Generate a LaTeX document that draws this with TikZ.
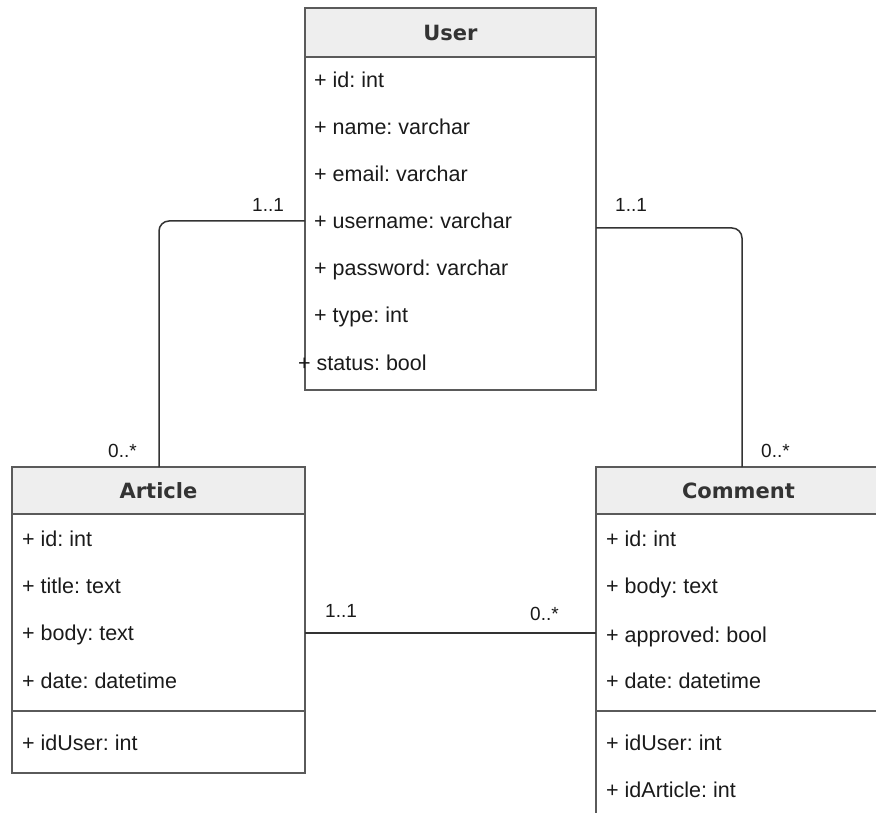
\documentclass[tikz,border=0pt]{standalone}
\usepackage{fontspec}
\setmainfont{Liberation Sans}
\newfontfamily\hdfont{DejaVu Sans}
\definecolor{boxgray}{HTML}{5A5A5A}
\definecolor{linegray}{HTML}{333333}
\definecolor{hdrfill}{HTML}{EEEEEE}
\definecolor{txt}{HTML}{1A1A1A}
\frenchspacing
\begin{document}
\begin{tikzpicture}[x=1pt,y=-1pt,
  box/.style={draw=boxgray, line width=1.5pt, anchor=north west, inner sep=0pt, outer sep=0pt},
  hdr/.style={box, fill=hdrfill, font=\hdfont\bfseries\fontsize{21}{25}\selectfont, text=linegray},
  row/.style={anchor=base west, inner sep=0pt, text=txt, font=\fontsize{21.5}{24}\selectfont},
  lbl/.style={anchor=base west, inner sep=0pt, text=txt, font=\fontsize{19}{22}\selectfont},
  conn/.style={draw=linegray, line width=1.5pt}]
\useasboundingbox (0,0) rectangle (876,813);
\clip (0,0) rectangle (876,813);
% ---------- User ----------
\node[hdr, minimum width=291pt, minimum height=49pt] (userh) at (305,8) {User};
\node[box, minimum width=291pt, minimum height=333pt] (user) at (305,57) {};
\node[row] (u1) at (314,88) {+ id: int};
\node[row] (u2) at (314,135) {+ name: varchar};
\node[row] (u3) at (314,182) {+ email: varchar};
\node[row] (u4) at (314,229) {+ username: varchar};
\node[row] (u5) at (314,276) {+ password: varchar};
\node[row] (u6) at (314,323) {+ type: int};
\node[row] (u7) at (298,370) {+ status: bool};
% ---------- Article ----------
\node[hdr, minimum width=293pt, minimum height=47pt] (articleh) at (12,467) {Article};
\node[box, minimum width=293pt, minimum height=259pt] (article) at (12,514) {};
\draw[draw=boxgray, line width=1.5pt] (article.west |- 0,711) -- (article.east |- 0,711);
\node[row] (a1) at (22,546) {+ id: int};
\node[row] (a2) at (22,593) {+ title: text};
\node[row] (a3) at (22,640) {+ body: text};
\node[row] (a4) at (22,688) {+ date: datetime};
\node[row] (a5) at (22,750) {+ idUser: int};
% ---------- Comment ----------
\node[hdr, minimum width=300pt, minimum height=47pt, text width=300pt, align=left] (commenth) at (596,467) {\hspace*{86pt}Comment};
\node[box, minimum width=300pt, minimum height=340pt] (comment) at (596,514) {};
\draw[draw=boxgray, line width=1.5pt] (comment.west |- 0,711) -- (comment.east |- 0,711);
\node[row] (c1) at (606,546) {+ id: int};
\node[row] (c2) at (606,593) {+ body: text};
\node[row] (c3) at (606,642) {+ approved: bool};
\node[row] (c4) at (606,688) {+ date: datetime};
\node[row] (c5) at (606,750) {+ idUser: int};
\node[row] (c6) at (606,797) {+ idArticle: int};
% ---------- connectors ----------
\coordinate (yl) at (0,221);
\coordinate (yr) at (0,228);
\coordinate (ym) at (0,633);
\coordinate (xl) at (159,0);
\coordinate (xr) at (742,0);
\draw[conn, rounded corners=10pt] (user.west |- yl) -| (xl |- articleh.north);
\draw[conn, rounded corners=10pt] (user.east |- yr) -| (xr |- commenth.north);
\draw[conn] (article.east |- ym) -- (comment.west |- ym);
% ---------- multiplicities ----------
\node[lbl] (l1) at (252,212) {1..1};
\node[lbl] (l2) at (108,457) {0..*};
\node[lbl] (l3) at (615,212) {1..1};
\node[lbl] (l4) at (761,457) {0..*};
\node[lbl] (l5) at (325,617) {1..1};
\node[lbl] (l6) at (530,620) {0..*};
\end{tikzpicture}
\end{document}
